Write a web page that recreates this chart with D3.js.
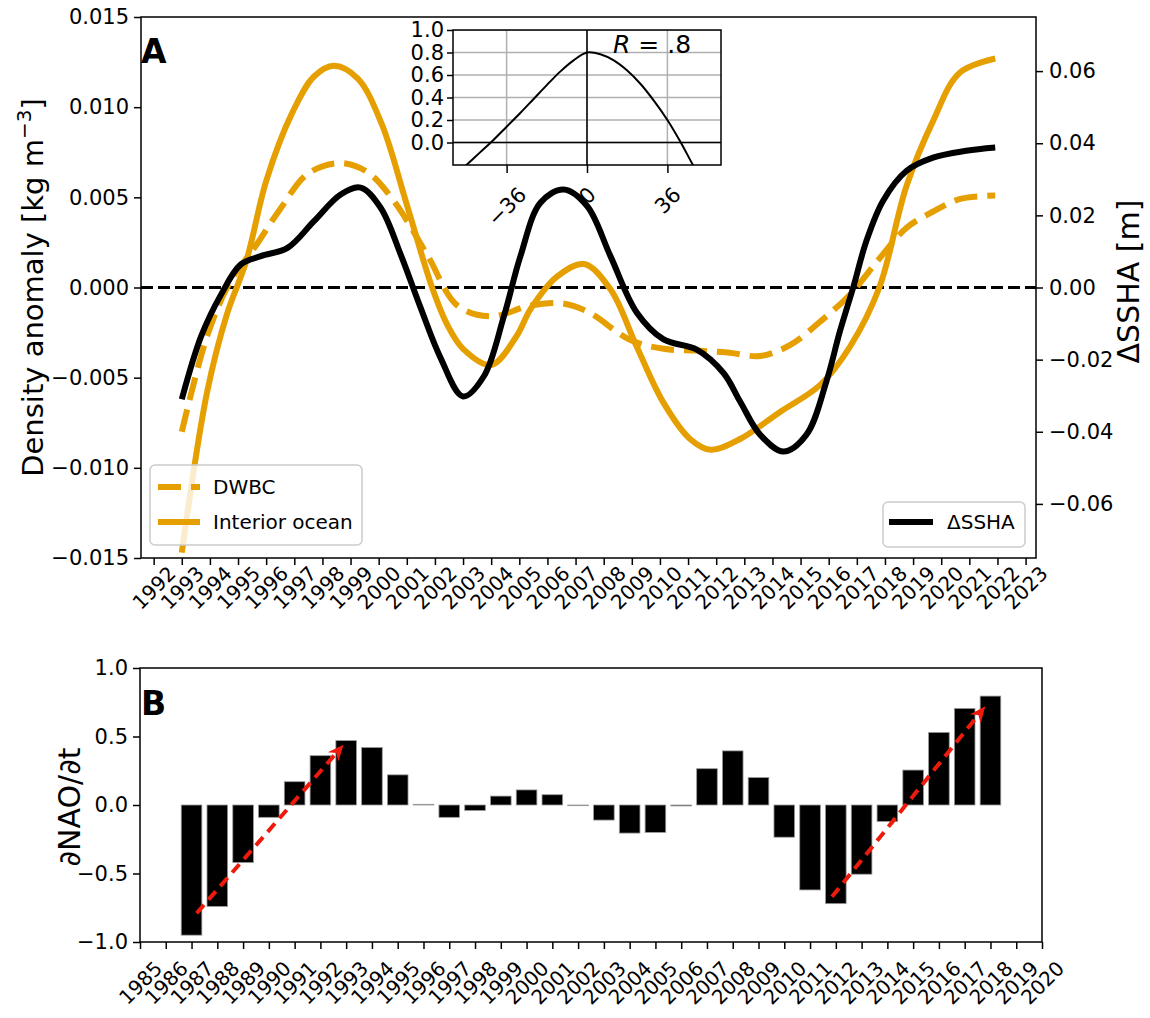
<!DOCTYPE html>
<html>
<head>
<meta charset="utf-8">
<script src="https://cdn.jsdelivr.net/npm/d3@7"></script>
<style>
body { margin: 0; background: #fff; }
text { font-family: "DejaVu Sans", sans-serif; fill: #000; }
</style>
</head>
<body>
<div id="chart"></div>
<script>
// ---- data ----
// panel A, left axis: density anomaly [kg m-3]
var interiorYears = [1993.0, 1993.9, 1994.6, 1995.3, 1996.0, 1996.9, 1997.7, 1998.4, 1999.25, 2000.1, 2001.0, 2001.9,
    2002.45, 2003.0, 2004.0, 2004.9, 2005.4, 2006.34, 2007.3, 2008.24, 2009.18, 2010.13, 2011.07, 2011.8,
    2012.85, 2014.27, 2015.7, 2016.75, 2017.8, 2018.76, 2019.7, 2020.65, 2021.92];
var interiorVals = [-0.0147, -0.0058, -0.0015, 0.0015, 0.0059, 0.0096, 0.0117, 0.0123, 0.0116, 0.0091, 0.0046, 0.0000,
    -0.0021, -0.0034, -0.0043, -0.0027, -0.0012, 0.0006, 0.0013, -0.0001, -0.0033, -0.0064, -0.0084, -0.0090,
    -0.0084, -0.0069, -0.0054, -0.0033, 0.0000, 0.0056, 0.0092, 0.0119, 0.0127];

var dwbcYears = [1993.0, 1993.92, 1994.75, 1995.58, 1996.52, 1997.47, 1998.6, 1999.6, 2000.54, 2001.73, 2002.8,
    2004.0, 2005.4, 2006.6, 2007.5, 2008.93, 2010.13, 2011.31, 2012.4, 2013.56, 2014.62, 2015.69, 2016.75,
    2017.8, 2018.76, 2019.7, 2020.65, 2021.92];
var dwbcVals = [-0.0080, -0.0026, 0.0004, 0.0022, 0.0044, 0.0063, 0.0069, 0.0064, 0.0048, 0.0018, -0.0010,
    -0.0016, -0.0010, -0.0009, -0.0014, -0.0029, -0.0034, -0.0035, -0.0036, -0.0038, -0.0032, -0.0019, -0.0004,
    0.0016, 0.0033, 0.0042, 0.0049, 0.0051];

// panel A, right axis: delta SSHA [m]
var sshaYears = [1993.0, 1993.69, 1994.4, 1995.1, 1995.81, 1996.76, 1997.7, 1998.65, 1999.36, 2000.07, 2000.78,
    2001.49, 2002.2, 2003.0, 2003.74, 2004.45, 2005.04, 2005.75, 2006.58, 2007.41, 2008.24, 2009.18, 2010.13,
    2011.31, 2012.26, 2012.85, 2013.56, 2014.39, 2015.21, 2015.92, 2016.4, 2016.87, 2017.34, 2017.93, 2018.76,
    2019.71, 2020.89, 2021.92];
var sshaVals = [-0.0310, -0.0135, -0.0019, 0.0064, 0.0087, 0.0110, 0.0184, 0.0258, 0.0277, 0.0221, 0.0092,
    -0.0056, -0.0195, -0.0302, -0.0246, -0.0080, 0.0087, 0.0235, 0.0272, 0.0226, 0.0087, -0.0070, -0.0144,
    -0.0172, -0.0237, -0.0316, -0.0408, -0.0455, -0.0408, -0.0260, -0.0121, 0.0000, 0.0129, 0.0240, 0.0323,
    0.0360, 0.0379, 0.0388];

// inset: lagged correlation
var lagMonths = [-60, -54, -48, -42, -36, -30, -24, -18, -12, -6, 0, 6, 12, 18, 24, 30, 36, 42, 48, 54, 60];
var lagCorr = [-0.30, -0.20, -0.09, 0.02, 0.14, 0.26, 0.385, 0.51, 0.63, 0.73, 0.80, 0.785, 0.73, 0.64, 0.52,
    0.37, 0.20, 0.00, -0.22, -0.42, -0.60];

// panel B: dNAO/dt
var naoYears = [1987, 1988, 1989, 1990, 1991, 1992, 1993, 1994, 1995, 1996, 1997, 1998, 1999, 2000, 2001, 2002,
    2003, 2004, 2005, 2006, 2007, 2008, 2009, 2010, 2011, 2012, 2013, 2014, 2015, 2016, 2017, 2018];
var naoVals = [-0.95, -0.74, -0.42, -0.09, 0.17, 0.36, 0.47, 0.42, 0.22, 0.005, -0.09, -0.04, 0.065, 0.11, 0.075, -0.005,
    -0.11, -0.205, -0.20, -0.007, 0.265, 0.395, 0.20, -0.235, -0.62, -0.72, -0.505, -0.12, 0.255, 0.53, 0.705, 0.795];

// trend arrows: start and end points
var arrowFrom = [[1987.2, -0.79], [2011.85, -0.67]];
var arrowTo = [[1992.9, 0.44], [2017.8, 0.72]];

// tick values
var topXTicks = d3.range(1992, 2024);
var leftTicks = [-0.015, -0.010, -0.005, 0, 0.005, 0.010, 0.015];
var rightTicks = [-0.06, -0.04, -0.02, 0, 0.02, 0.04, 0.06];
var insetXTicks = [-36, 0, 36];
var insetYTicks = [0, 0.2, 0.4, 0.6, 0.8, 1.0];
var botXTicks = d3.range(1985, 2021);
var botYTicks = [-1, -0.5, 0, 0.5, 1];

var orange = "#e69f00";

// ---- layout ----
var A = { left: 141, right: 1036, top: 17, bottom: 558 };
var B = { left: 140, right: 1042, top: 668, bottom: 942 };
var I = { left: 453, right: 721, top: 30, bottom: 165 };

var svg = d3.select("#chart").append("svg")
    .attr("width", 1150).attr("height", 1018)
    .style("background", "#fff");
var defs = svg.append("defs");

function styleAxis(g, fs) {
    g.select(".domain").remove();
    g.selectAll(".tick line").attr("stroke", "#000").attr("stroke-width", 1.5);
    g.selectAll(".tick text").attr("font-size", fs).attr("fill", "#000")
        .attr("font-family", "DejaVu Sans, sans-serif");
}

// rotate labels 45deg, centred under the tick (like matplotlib rotation=45)
function rotateLabels(g, fs, offset) {
    g.selectAll(".tick text").each(function () {
        var w = this.getComputedTextLength();
        var ext = (w + fs * 0.95) / Math.SQRT2;
        d3.select(this)
            .attr("text-anchor", "middle")
            .attr("dominant-baseline", "central")
            .attr("y", null).attr("dy", null)
            .attr("transform", "translate(0," + (offset + ext / 2) + ") rotate(-45)");
    });
}

// ================= panel A =================
var x = d3.scaleLinear().domain([1991.55, 2023.37]).range([A.left, A.right]);
var yL = d3.scaleLinear().domain([-0.015, 0.015]).range([A.bottom, A.top]);
var yR = d3.scaleLinear().domain([-0.075, 0.075]).range([A.bottom, A.top]);

defs.append("clipPath").attr("id", "clipA").append("rect")
    .attr("x", A.left).attr("y", A.top)
    .attr("width", A.right - A.left).attr("height", A.bottom - A.top);

var plotA = svg.append("g").attr("clip-path", "url(#clipA)");

plotA.append("line")
    .attr("x1", A.left).attr("x2", A.right)
    .attr("y1", yL(0)).attr("y2", yL(0))
    .attr("stroke", "#000").attr("stroke-width", 3)
    .attr("stroke-dasharray", "12,5");

var lineL = d3.line()
    .x(function (d) { return x(d[0]); })
    .y(function (d) { return yL(d[1]); })
    .curve(d3.curveCatmullRom.alpha(0.5));
var lineR = d3.line()
    .x(function (d) { return x(d[0]); })
    .y(function (d) { return yR(d[1]); })
    .curve(d3.curveCatmullRom.alpha(0.5));

plotA.append("path")
    .datum(d3.zip(interiorYears, interiorVals))
    .attr("d", lineL)
    .attr("fill", "none").attr("stroke", orange).attr("stroke-width", 6);

plotA.append("path")
    .datum(d3.zip(dwbcYears, dwbcVals))
    .attr("d", lineL)
    .attr("fill", "none").attr("stroke", orange).attr("stroke-width", 6)
    .attr("stroke-dasharray", "23,10");

// legend 1 (left axis)
var leg1 = svg.append("g");
leg1.append("rect")
    .attr("x", 150).attr("y", 465).attr("width", 212).attr("height", 80)
    .attr("rx", 5).attr("fill", "#fff").attr("fill-opacity", 0.8)
    .attr("stroke", "#cccccc").attr("stroke-width", 1.5);
leg1.append("line").attr("x1", 158).attr("x2", 200).attr("y1", 487).attr("y2", 487)
    .attr("stroke", orange).attr("stroke-width", 6).attr("stroke-dasharray", "23,10");
leg1.append("text").attr("x", 213).attr("y", 494).attr("font-size", 20).text("DWBC");
leg1.append("line").attr("x1", 158).attr("x2", 200).attr("y1", 522).attr("y2", 522)
    .attr("stroke", orange).attr("stroke-width", 6);
leg1.append("text").attr("x", 213).attr("y", 529).attr("font-size", 20).text("Interior ocean");

var plotA2 = svg.append("g").attr("clip-path", "url(#clipA)");
plotA2.append("path")
    .datum(d3.zip(sshaYears, sshaVals))
    .attr("d", lineR)
    .attr("fill", "none").attr("stroke", "#000").attr("stroke-width", 6);

// legend 2 (right axis)
var leg2 = svg.append("g");
leg2.append("rect")
    .attr("x", 883).attr("y", 502).attr("width", 142).attr("height", 45)
    .attr("rx", 5).attr("fill", "#fff").attr("fill-opacity", 0.8)
    .attr("stroke", "#cccccc").attr("stroke-width", 1.5);
leg2.append("line").attr("x1", 889).attr("x2", 933).attr("y1", 522).attr("y2", 522)
    .attr("stroke", "#000").attr("stroke-width", 6);
leg2.append("text").attr("x", 947).attr("y", 529).attr("font-size", 20).text("ΔSSHA");

// axes
svg.append("g").attr("transform", "translate(" + A.left + ",0)")
    .call(d3.axisLeft(yL).tickValues(leftTicks).tickFormat(d3.format(".3f")).tickSize(7).tickPadding(5))
    .call(styleAxis, 21);
svg.append("g").attr("transform", "translate(" + A.right + ",0)")
    .call(d3.axisRight(yR).tickValues(rightTicks).tickFormat(d3.format(".2f")).tickSize(7).tickPadding(6))
    .call(styleAxis, 21);
svg.append("g").attr("transform", "translate(0," + A.bottom + ")")
    .call(d3.axisBottom(x).tickValues(topXTicks).tickFormat(d3.format("d")).tickSize(7))
    .call(styleAxis, 20)
    .call(rotateLabels, 20, 5);

svg.append("rect")
    .attr("x", A.left).attr("y", A.top)
    .attr("width", A.right - A.left).attr("height", A.bottom - A.top)
    .attr("fill", "none").attr("stroke", "#000").attr("stroke-width", 1.5);

// axis labels
var ylab = svg.append("text")
    .attr("transform", "translate(43," + ((A.top + A.bottom) / 2) + ") rotate(-90)")
    .attr("text-anchor", "middle").attr("font-size", 29);
ylab.append("tspan").text("Density anomaly [kg m");
ylab.append("tspan").attr("font-size", 20).attr("dy", -12).text("−3");
ylab.append("tspan").attr("dy", 12).text("]");

svg.append("text")
    .attr("transform", "translate(1139," + ((A.top + A.bottom) / 2 - 6) + ") rotate(-90)")
    .attr("text-anchor", "middle").attr("font-size", 30)
    .text("ΔSSHA [m]");

svg.append("text").attr("x", 141).attr("y", 63)
    .attr("font-size", 33).attr("font-weight", "bold").text("A");

// ---- inset ----
var xi = d3.scaleLinear().domain([-60, 60]).range([I.left, I.right]);
var yi = d3.scaleLinear().domain([-0.2, 1.0]).range([I.bottom, I.top]);

defs.append("clipPath").attr("id", "clipI").append("rect")
    .attr("x", I.left).attr("y", I.top)
    .attr("width", I.right - I.left).attr("height", I.bottom - I.top);

svg.append("rect")
    .attr("x", I.left).attr("y", I.top)
    .attr("width", I.right - I.left).attr("height", I.bottom - I.top)
    .attr("fill", "#fff");

var gi = svg.append("g").attr("clip-path", "url(#clipI)");
gi.selectAll(".hgrid").data(insetYTicks).enter().append("line")
    .attr("x1", I.left).attr("x2", I.right)
    .attr("y1", function (d) { return yi(d); }).attr("y2", function (d) { return yi(d); })
    .attr("stroke", "#b0b0b0").attr("stroke-width", 1.5);
gi.selectAll(".vgrid").data(insetXTicks).enter().append("line")
    .attr("y1", I.top).attr("y2", I.bottom)
    .attr("x1", function (d) { return xi(d); }).attr("x2", function (d) { return xi(d); })
    .attr("stroke", "#b0b0b0").attr("stroke-width", 1.5);
gi.append("line").attr("x1", I.left).attr("x2", I.right).attr("y1", yi(0)).attr("y2", yi(0))
    .attr("stroke", "#000").attr("stroke-width", 1.5);
gi.append("line").attr("y1", I.top).attr("y2", I.bottom).attr("x1", xi(0)).attr("x2", xi(0))
    .attr("stroke", "#000").attr("stroke-width", 1.5);
gi.append("path")
    .datum(d3.zip(lagMonths, lagCorr))
    .attr("d", d3.line()
        .x(function (d) { return xi(d[0]); })
        .y(function (d) { return yi(d[1]); })
        .curve(d3.curveCatmullRom.alpha(0.5)))
    .attr("fill", "none").attr("stroke", "#000").attr("stroke-width", 2);

svg.append("g").attr("transform", "translate(" + I.left + ",0)")
    .call(d3.axisLeft(yi).tickValues(insetYTicks).tickFormat(d3.format(".1f")).tickSize(6).tickPadding(3))
    .call(styleAxis, 21);
svg.append("g").attr("transform", "translate(0," + I.bottom + ")")
    .call(d3.axisBottom(xi).tickValues(insetXTicks).tickFormat(d3.format("d")).tickSize(8))
    .call(styleAxis, 21)
    .call(rotateLabels, 21, 19);
svg.append("rect")
    .attr("x", I.left).attr("y", I.top)
    .attr("width", I.right - I.left).attr("height", I.bottom - I.top)
    .attr("fill", "none").attr("stroke", "#000").attr("stroke-width", 1.5);

var rtext = svg.append("text").attr("x", 613).attr("y", 53).attr("font-size", 25);
rtext.append("tspan").attr("font-style", "italic").text("R");
rtext.append("tspan").text(" = .8");

// ================= panel B =================
var xb = d3.scaleLinear().domain([1985, 2020]).range([B.left, B.right]);
var yb = d3.scaleLinear().domain([-1, 1]).range([B.bottom, B.top]);

svg.append("g").selectAll("rect").data(d3.zip(naoYears, naoVals)).enter().append("rect")
    .attr("x", function (d) { return xb(d[0] - 0.4); })
    .attr("width", function (d) { return xb(d[0] + 0.4) - xb(d[0] - 0.4); })
    .attr("y", function (d) { return yb(Math.max(0, d[1])); })
    .attr("height", function (d) { return Math.abs(yb(d[1]) - yb(0)); })
    .attr("fill", "#000").attr("stroke", "#999").attr("stroke-width", 0.8);

// dashed red trend arrows
var arrows = svg.append("g");
d3.zip(arrowFrom, arrowTo).forEach(function (a) {
    var x0 = xb(a[0][0]), y0 = yb(a[0][1]), x1 = xb(a[1][0]), y1 = yb(a[1][1]);
    var ang = Math.atan2(y1 - y0, x1 - x0);
    var len = Math.hypot(x1 - x0, y1 - y0);
    arrows.append("line")
        .attr("x1", x0).attr("y1", y0)
        .attr("x2", x0 + Math.cos(ang) * (len - 10)).attr("y2", y0 + Math.sin(ang) * (len - 10))
        .attr("stroke", "#ee1b0c").attr("stroke-width", 4).attr("stroke-dasharray", "11,7");
    arrows.append("path")
        .attr("d", "M0,0 L-16,-7 L-11,0 L-16,7 Z")
        .attr("transform", "translate(" + x1 + "," + y1 + ") rotate(" + (ang * 180 / Math.PI) + ")")
        .attr("fill", "#ee1b0c");
});

svg.append("g").attr("transform", "translate(" + B.left + ",0)")
    .call(d3.axisLeft(yb).tickValues(botYTicks).tickFormat(d3.format(".1f")).tickSize(7).tickPadding(5))
    .call(styleAxis, 21);
svg.append("g").attr("transform", "translate(0," + B.bottom + ")")
    .call(d3.axisBottom(xb).tickValues(botXTicks).tickFormat(d3.format("d")).tickSize(7))
    .call(styleAxis, 20)
    .call(rotateLabels, 20, 16);

svg.append("rect")
    .attr("x", B.left).attr("y", B.top)
    .attr("width", B.right - B.left).attr("height", B.bottom - B.top)
    .attr("fill", "none").attr("stroke", "#000").attr("stroke-width", 1.5);

svg.append("text")
    .attr("transform", "translate(80," + ((B.top + B.bottom) / 2 + 2) + ") rotate(-90)")
    .attr("text-anchor", "middle").attr("font-size", 30)
    .text("∂NAO/∂t");

svg.append("text").attr("x", 141).attr("y", 715)
    .attr("font-size", 33).attr("font-weight", "bold").text("B");
</script>
</body>
</html>
